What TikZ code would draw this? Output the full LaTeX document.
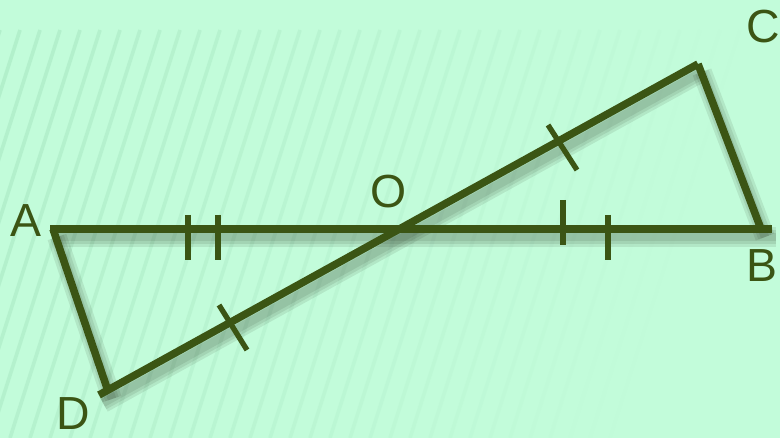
\documentclass[tikz,border=0pt]{standalone}
\usepackage{fontspec}
\setmainfont{Liberation Sans}
\usepackage{xcolor}
\usetikzlibrary{positioning}

\definecolor{mint}{HTML}{C2FCDA}
\definecolor{stripe}{HTML}{A6E6C0}
\definecolor{olive}{HTML}{3B5514}

\begin{document}
\begin{tikzpicture}[x=0.025cm, y=-0.025cm,
    side/.style={draw=olive, line width=5.4pt},
    tickmark/.style={draw=olive, line width=3.8pt},
    blur/.style={draw=black!70!olive, line width=#1, opacity=0.09},
    lbl/.style={text=olive, font=\fontsize{33}{33}\selectfont, inner sep=0pt}]
                \fill[mint] (0,0) rectangle (780,438);
                \useasboundingbox (0,0) rectangle (780,438);

                % faint stripes in the background
                \foreach \s in {-120,-100,...,760} {
                  \pgfmathsetmacro\op{max(0,0.65-0.00075*(\s+120))}
                  \draw[stripe, line width=2.6pt, opacity=\op] (\s,30) -- ++(-130,408);
                }

                \coordinate (A) at (53,229);
                \coordinate (A0) at (50,229);
                \coordinate (B) at (761,229);
                \coordinate (B0) at (772,229);
                \coordinate (C) at (698,64);
                \coordinate (D) at (108,391);
                \coordinate (D0) at (99,395);
                \coordinate (O) at (397,229);

                \node[lbl] (lA) at (26,221) {A};
                \node[lbl] (lB) at (762,266) {B};
                \node[lbl] (lC) at (763,27) {C};
                \node[lbl] (lD) at (73,414) {D};
                \node[lbl] (lO) at (389,192) {O};

                % soft shadow under the sides
                \begin{scope}[transform canvas={shift={(4,8)}}]
                  \foreach \w in {14pt,10pt,6pt}
                    \path[blur=\w] (A0) edge (B0) (D0) edge (C) (A) edge (D) (C) edge (B);
                \end{scope}

                \path[side]
                (A0) edge (B0)
                (D0) edge (C)
                (A) edge (D)
                (C) edge (B);

                % equal marks
                \draw[tickmark] (188,215) -- (188,260);
                \draw[tickmark] (218,215) -- (218,260);
                \draw[tickmark] (563,200) -- (563,245);
                \draw[tickmark] (608,215) -- (608,260);
                \draw[tickmark] (548,125) -- (577,170);
                \draw[tickmark] (219,305) -- (247,350);
            \end{tikzpicture}
\end{document}
